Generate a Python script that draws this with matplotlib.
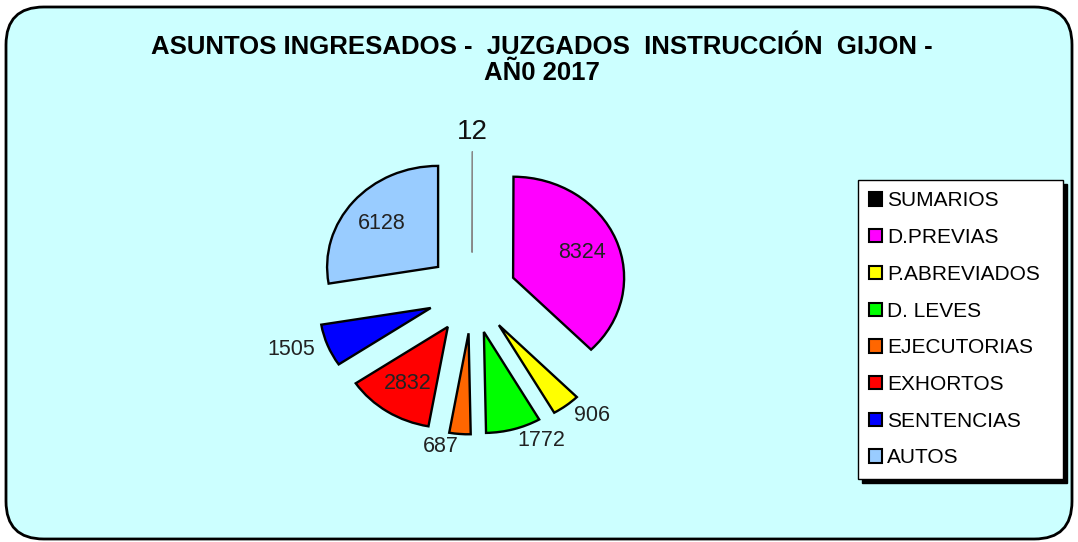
import numpy as np
import matplotlib
matplotlib.use("Agg")
import matplotlib.pyplot as plt
from matplotlib.patches import FancyBboxPatch

plt.rcParams["font.family"] = ["Liberation Sans", "DejaVu Sans"]

categorias = ["SUMARIOS", "D.PREVIAS", "P.ABREVIADOS", "D. LEVES",
              "EJECUTORIAS", "EXHORTOS", "SENTENCIAS", "AUTOS"]
valores = [12, 8324, 906, 1772, 687, 2832, 1505, 6128]
colores = ["#000000", "#FF00FF", "#FFFF00", "#00FF00",
           "#FF6600", "#FF0000", "#0000FF", "#99CCFF"]
# etiquetas dentro del sector o fuera
dentro = [False, True, False, False, False, True, False, True]

titulo = "ASUNTOS INGRESADOS -  JUZGADOS  INSTRUCCIÓN  GIJON -\nAÑ0 2017"

W, H = 1078, 542
fig = plt.figure(figsize=(W / 100, H / 100), dpi=100)
fig.patch.set_facecolor("white")

# fondo redondeado
fondo = FancyBboxPatch((6 / W, 3 / H), (W - 12) / W, (H - 10) / H,
                       boxstyle="round,pad=0,rounding_size=0.035",
                       transform=fig.transFigure, facecolor="#CCFFFF",
                       edgecolor="black", linewidth=2, mutation_aspect=W / H,
                       zorder=-5)
fig.patches.append(fondo)

fig.text(0.503, 1 - 60 / H, titulo, ha="center", va="center",
         fontsize=18.5, fontweight="bold", linespacing=1.1)

# ejes del pastel: centro en (472, 293) px, radio 111 px en x y 101 px en y
cx, cy, rx, ry = 472, 293, 111, 101
ax = fig.add_axes([(cx - 2 * rx) / W, (H - cy - 2 * ry) / H, 4 * rx / W, 4 * ry / H])
ax.set_zorder(1)

explode = [0.4] * len(valores)
wedges, texts, autotexts = ax.pie(
    valores, colors=colores, explode=explode, startangle=90, counterclock=False,
    labels=[str(v) for v in valores], labeldistance=1.12,
    autopct="%d", pctdistance=0.67,
    wedgeprops=dict(edgecolor="black", linewidth=1.7),
    textprops=dict(fontsize=15.5, color="#222222"))
ax.set_aspect("auto")
ax.set_xlim(-2, 2)
ax.set_ylim(-2, 2)
ax.axis("off")

wedges[0].set_edgecolor("#888888")
wedges[0].set_linewidth(0.8)

for i, v in enumerate(valores):
    if dentro[i]:
        texts[i].set_text("")
        autotexts[i].set_text(str(v))
    else:
        autotexts[i].set_text("")
texts[0].set_fontsize(20)
texts[0].set_ha("center")
texts[0].set_va("baseline")
texts[0].set_color("#111111")

leg = fig.legend(wedges, categorias, loc="upper left",
                 bbox_to_anchor=(858 / W, 1 - 180 / H - 0.01, 205 / W, 0.01),
                 mode="expand", frameon=True, fancybox=False,
                 shadow={"ox": 3, "oy": -3, "color": "black", "alpha": 1},
                 fontsize=15, handlelength=0.6, handleheight=0.6,
                 handletextpad=0.25, labelspacing=0.85, borderpad=0.55,
                 borderaxespad=0)
leg.set_zorder(2)
leg.get_frame().set_edgecolor("black")
leg.get_frame().set_linewidth(1)
for h in leg.legend_handles:
    h.set_linewidth(1.5)
    h.set_edgecolor("black")

fig.savefig("out.png", dpi=100)
